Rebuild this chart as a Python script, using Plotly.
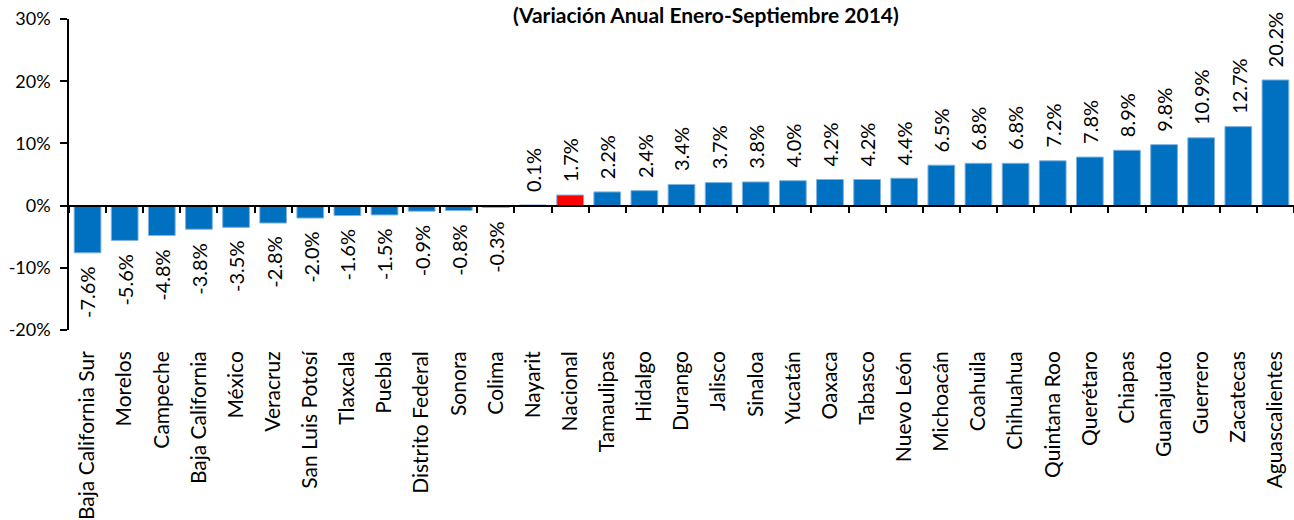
import plotly.graph_objects as go

WIDTH = 1294
HEIGHT = 520

states = ["Baja California Sur", "Morelos", "Campeche", "Baja California", "México",
          "Veracruz", "San Luis Potosí", "Tlaxcala", "Puebla", "Distrito Federal",
          "Sonora", "Colima", "Nayarit", "Nacional", "Tamaulipas", "Hidalgo",
          "Durango", "Jalisco", "Sinaloa", "Yucatán", "Oaxaca", "Tabasco",
          "Nuevo León", "Michoacán", "Coahuila", "Chihuahua", "Quintana Roo",
          "Querétaro", "Chiapas", "Guanajuato", "Guerrero", "Zacatecas", "Aguascalientes"]
values = [-7.6, -5.6, -4.8, -3.8, -3.5, -2.8, -2.0, -1.6, -1.5, -0.9, -0.8, -0.3,
          0.1, 1.7, 2.2, 2.4, 3.4, 3.7, 3.8, 4.0, 4.2, 4.2, 4.4, 6.5, 6.8, 6.8, 7.2,
          7.8, 8.9, 9.8, 10.9, 12.7, 20.2]
y_ticks = [-20, -10, 0, 10, 20, 30]

FONT = "Lato"
BLUE = "#0070C0"
RED = "#FF0000"

colors = [RED if s == "Nacional" else BLUE for s in states]
rng = [-0.5, len(states) - 0.5]

fig = go.Figure()
fig.add_trace(go.Bar(x=states, y=values, marker=dict(color=colors, line=dict(color="#7FB2E0", width=1)),
                     width=0.72, hoverinfo="x+y", showlegend=False))
# invisible trace so the bottom label axis gets drawn
fig.add_trace(go.Scatter(x=states, y=values, xaxis="x2", mode="markers",
                         marker=dict(opacity=0), hoverinfo="skip", showlegend=False))

# rotated value labels
for s, v in zip(states, values):
    fig.add_annotation(x=s, y=v, text=f"{v:.1f}%", textangle=-90, showarrow=False,
                       yanchor="bottom" if v >= 0 else "top", yshift=11 if v >= 0 else -12,
                       font=dict(family=FONT, size=20, color="black"))

fig.add_annotation(xref="paper", yref="paper", x=0.52, y=1, yanchor="top", yshift=19,
                   text="<b>(Variación Anual Enero-Septiembre 2014)</b>", showarrow=False,
                   font=dict(family=FONT, size=21, color="black"))

fig.update_layout(
    width=WIDTH, height=HEIGHT,
    margin=dict(l=69, r=0, t=19, b=190),
    plot_bgcolor="white", paper_bgcolor="white",
    font=dict(family=FONT, size=18, color="black"),
    xaxis=dict(type="category", categoryarray=states, range=rng, anchor="free", position=0.4,
               showline=True, linecolor="black", linewidth=1.5, ticks="outside", tickson="boundaries",
               ticklen=7, tickcolor="black", tickwidth=1.5, showticklabels=False, showgrid=False,
               zeroline=False, automargin=False),
    xaxis2=dict(type="category", categoryarray=states, range=rng, overlaying="x", anchor="y",
                side="bottom", showline=False, ticks="", showgrid=False, tickangle=-90,
                ticklabelstandoff=16, automargin=False,
                tickfont=dict(family=FONT, size=21, color="black")),
    yaxis=dict(range=[-20, 30], tickvals=y_ticks, ticktext=[f"{t}%" for t in y_ticks],
               showline=True, linecolor="black", linewidth=1.5, ticks="outside", ticklen=7,
               tickcolor="black", tickwidth=1.5, showgrid=False, zeroline=False, automargin=False,
               ticklabelstandoff=6, tickfont=dict(family=FONT, size=18, color="black")),
)

# the page body has a default 8px margin; drop it so the figure fills the window
fig.write_html("out.html", config={"displayModeBar": False},
               post_script="document.body.style.margin='0';document.body.style.overflow='hidden';")
